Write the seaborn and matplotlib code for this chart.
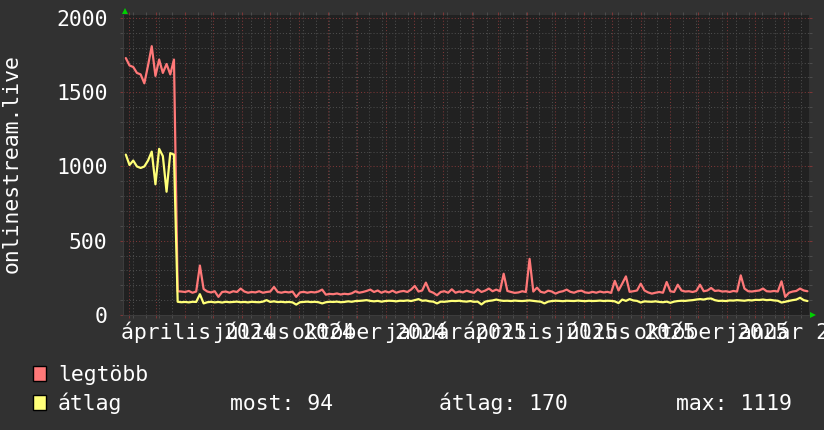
import matplotlib
matplotlib.use('Agg')
import matplotlib.pyplot as plt
import matplotlib.dates as mdates
from matplotlib.ticker import MultipleLocator, FixedLocator
from matplotlib.patches import Rectangle
import pandas as pd
import seaborn as sns

# Values (one sample about every 4 days)
legtobb = [1730, 1680, 1670, 1630, 1620, 1560, 1680, 1810, 1610, 1720, 1630, 1690, 1620, 1720,
           160, 158, 155, 162, 150, 158, 333, 175, 158, 152,
           160, 122, 155, 158, 150, 160, 155, 178, 158, 150,
           155, 152, 160, 150, 155, 158, 189, 155, 150, 156,
           152, 158, 122, 152, 156, 150, 155, 152, 158, 171,
           137, 142, 140, 145, 138, 143, 140, 146, 160, 150,
           155, 162, 171, 155, 165, 150, 160, 152, 164, 150,
           158, 162, 155, 171, 196, 158, 165, 218, 160, 150,
           133, 155, 160, 150, 173, 150, 158, 152, 164, 155,
           150, 173, 155, 164, 178, 160, 171, 160, 278, 162,
           155, 149, 152, 160, 155, 378, 158, 184, 156, 150,
           164, 158, 144, 155, 160, 171, 156, 150, 160, 164,
           152, 149, 156, 150, 158, 152, 156, 149, 230, 165,
           211, 260, 156, 160, 165, 211, 165, 152, 144, 150,
           155, 150, 222, 160, 155, 204, 165, 158, 160, 155,
           162, 204, 160, 165, 182, 162, 165, 158, 160, 155,
           162, 158, 267, 178, 160, 158, 162, 165, 178, 160,
           158, 162, 158, 227, 122, 150, 158, 162, 178, 165, 160]

atlag = [1080, 1010, 1040, 1000, 990, 1000, 1040, 1100, 880, 1119, 1070, 830, 1090, 1080,
         89, 86, 88, 85, 89, 88, 140, 78, 86, 89,
         85, 88, 84, 89, 86, 88, 90, 86, 88, 85,
         89, 87, 86, 90, 100, 88, 92, 87, 89, 86,
         88, 85, 70, 86, 88, 90, 87, 89, 86, 78,
         86, 89, 88, 90, 86, 88, 92, 89, 94, 95,
         97, 100, 95, 92, 95, 90, 94, 96, 95, 92,
         96, 95, 98, 94, 100, 107, 96, 98, 92, 90,
         78, 90, 89, 92, 95, 94, 96, 92, 90, 94,
         89, 90, 71, 90, 95, 98, 104, 98, 95, 96,
         94, 97, 95, 94, 96, 98, 95, 92, 90, 78,
         90, 94, 96, 95, 93, 96, 95, 94, 97, 95,
         93, 96, 94, 95, 97, 94, 96, 95, 92, 80,
         104, 95, 107, 98, 95, 84, 92, 90, 89, 92,
         88, 86, 90, 82, 90, 94, 96, 95, 98, 100,
         104, 107, 104, 110, 111, 100, 95, 96, 94, 98,
         97, 100, 98, 96, 100, 98, 102, 101, 104, 100,
         102, 98, 96, 84, 89, 95, 100, 104, 116, 100, 94]

month_labels = ['április 2024', 'július 2024', 'október 2024', 'január 2025',
                'április 2025', 'július 2025', 'október 2025', 'január 2026']
label_dates = ['2024-04-15', '2024-07-15', '2024-10-15', '2025-01-15',
               '2025-04-15', '2025-07-15', '2025-10-15', '2026-01-15']
y_ticks = [0, 500, 1000, 1500, 2000]
stats = ['most: 94', 'átlag: 170', 'max: 1119']

RED = '#ff7878'
YELLOW = '#ffff78'
MGRID = '#7c3636'
GRID = '#4c4c4c'

sns.set_theme(style='dark', rc={
    'figure.facecolor': '#313131',
    'savefig.facecolor': '#313131',
    'axes.facecolor': '#212121',
    'text.color': 'white',
    'ytick.labelcolor': 'white',
})
plt.rcParams['font.family'] = ['DejaVu Sans Mono']
FS = 15.4

dates = pd.date_range('2024-01-28 12:00', periods=len(legtobb), freq='95h')
df = pd.DataFrame({'ido': dates, 'legtöbb': legtobb, 'átlag': atlag})

W, H = 824, 430
fig = plt.figure(figsize=(W / 100, H / 100), dpi=100)
ax = fig.add_axes([123 / W, 1 - 315 / H, 686 / W, 300 / H])

sns.lineplot(data=df, x='ido', y='legtöbb', color=RED, lw=1.6, estimator=None, ax=ax)
sns.lineplot(data=df, x='ido', y='átlag', color=YELLOW, lw=1.6, estimator=None, ax=ax)

ax.set_xlim(pd.Timestamp('2024-01-25 12:00'), pd.Timestamp('2026-01-27 12:00'))
ax.set_ylim(0, 2020)
ax.set_xlabel('')
ax.set_ylabel('')

# grid: monthly / every 500 in red, two-weekly / every 100 in gray
ax.xaxis.set_major_locator(mdates.MonthLocator())
minor_days = pd.date_range('2024-01-22', '2026-02-02', freq='14D')
ax.xaxis.set_minor_locator(FixedLocator(mdates.date2num(minor_days)))
ax.set_yticks(y_ticks)
ax.set_yticklabels([str(v) for v in y_ticks])
ax.yaxis.set_minor_locator(MultipleLocator(100))
ax.grid(which='minor', color=GRID, ls=(0, (1, 2)), lw=0.75)
ax.grid(which='major', color=MGRID, ls=(0, (1, 2)), lw=0.75)
ax.set_axisbelow(True)

ax.tick_params(axis='x', which='both', bottom=True, top=True, labelbottom=False,
               direction='out', length=2.2, width=0.75)
ax.tick_params(axis='y', which='both', left=True, right=True,
               direction='out', length=2.2, width=0.75)
ax.tick_params(which='major', color=MGRID)
ax.tick_params(which='minor', color=GRID)
ax.tick_params(axis='y', which='major', labelsize=FS, pad=9)

for s in ['top', 'right']:
    ax.spines[s].set_visible(False)
for s in ['left', 'bottom']:
    ax.spines[s].set_color('#3c3c3c')
    ax.spines[s].set_linewidth(0.75)

# x labels, centred mid-month (they overlap, like in the original)
for lab, d in zip(month_labels, label_dates):
    ax.text(pd.Timestamp(d), -0.08, lab, transform=ax.get_xaxis_transform(),
            ha='center', va='baseline', fontsize=FS, color='white', clip_on=False)

# green arrows at the ends of the axes
ax.plot([0.0025], [1.015], marker='^', ms=4.5, color='#00d000', mew=0,
        transform=ax.transAxes, clip_on=False)
ax.plot([1.0063], [0.0], marker='>', ms=4.5, color='#00d000', mew=0,
        transform=ax.transAxes, clip_on=False)

fig.text(12 / W, 1 - 164 / H, 'onlinestream.live', rotation=90, ha='center',
         va='center', fontsize=FS)

# legend
fig.add_artist(Rectangle((33 / W, 1 - 381 / H), 13 / W, 15 / H, transform=fig.transFigure,
                         facecolor=RED, edgecolor='black', lw=1))
fig.add_artist(Rectangle((33 / W, 1 - 410 / H), 13 / W, 15 / H, transform=fig.transFigure,
                         facecolor=YELLOW, edgecolor='black', lw=1))
fig.text(58 / W, 1 - 381 / H, 'legtöbb', va='baseline', fontsize=FS)
fig.text(58 / W, 1 - 410 / H, 'átlag', va='baseline', fontsize=FS)
for txt, xp in zip(stats, [230, 439, 676]):
    fig.text(xp / W, 1 - 410 / H, txt, va='baseline', fontsize=FS)

fig.savefig('out.png', dpi=100)
